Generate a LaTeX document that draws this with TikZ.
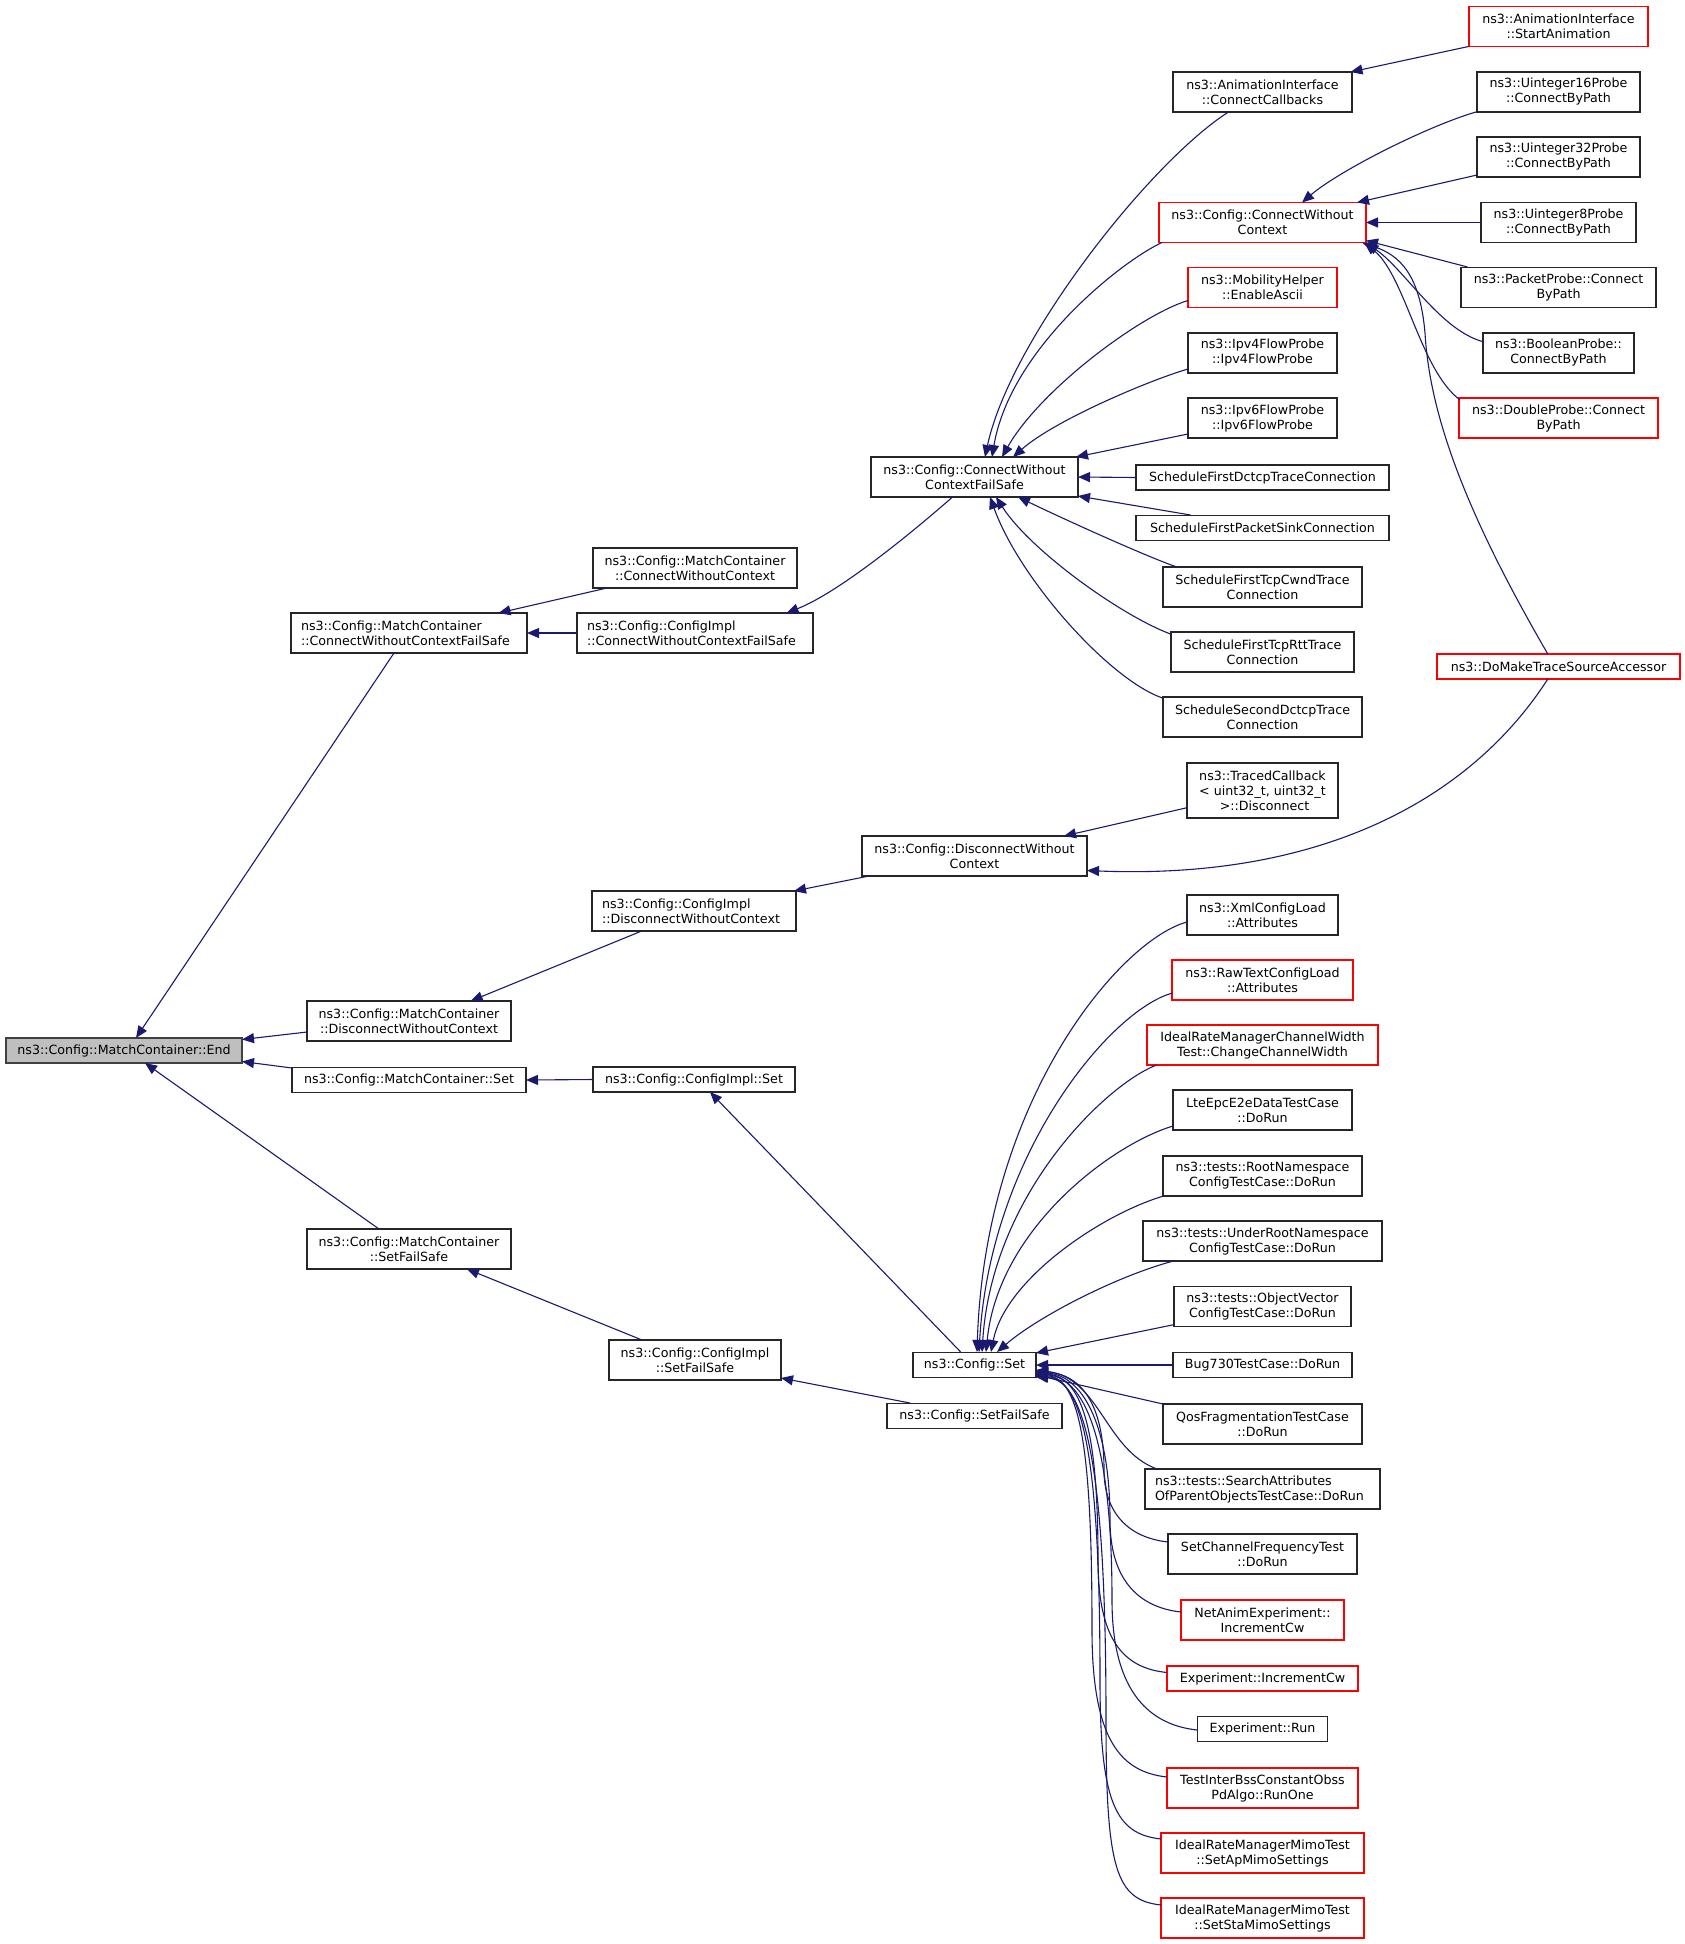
\documentclass[tikz,border=0pt]{standalone}
\usepackage{fontspec}
\setmainfont{DejaVu Sans}
\usetikzlibrary{arrows.meta,calc}
\definecolor{edgeblue}{RGB}{25,25,112}
\definecolor{boxgray}{RGB}{191,191,191}
\definecolor{boxred}{RGB}{255,0,0}
\newcommand\mk[6]{\node[#1,minimum width=#4,minimum height=#5] (#2) at (#3) {#6};}
\begin{document}
\begin{tikzpicture}[x=1pt,y=-1pt,
  font=\fontsize{12.66}{15}\selectfont,
  box/.style={draw=black!85, line width=1.2pt, fill=white, rectangle, inner sep=0pt, align=center},
  rbox/.style={box, draw=boxred},
  lbox/.style={box, align=left, inner xsep=10pt, inner ysep=0pt},
  gbox/.style={box, fill=boxgray, draw=black!75},
  edge/.style={draw=edgeblue, line width=1.1pt, -{Triangle[length=12pt,width=10pt]}}]
\useasboundingbox (0,0) rectangle (1685,1944);

% ---------- nodes ----------
\mk{gbox}{end}{124,1050.5}{236}{25}{ns3::Config::MatchContainer::End}
\mk{lbox,text width=216pt}{mcCWCFS}{409,633}{236}{40}{ns3::Config::MatchContainer\\::ConnectWithoutContextFailSafe}
\mk{box}{mcCWC}{695,568}{204}{40}{ns3::Config::MatchContainer\\::ConnectWithoutContext}
\mk{lbox,text width=216pt}{ciCWCFS}{695,633}{236}{40}{ns3::Config::ConfigImpl\\::ConnectWithoutContextFailSafe}
\mk{box}{cwcfs}{974.5,477}{207}{40}{ns3::Config::ConnectWithout\\ContextFailSafe}
\mk{box}{cc}{1262.5,92}{179}{40}{ns3::AnimationInterface\\::ConnectCallbacks}
\mk{rbox}{sa}{1558.5,26.5}{179}{40}{ns3::AnimationInterface\\::StartAnimation}
\mk{rbox}{cwc}{1262.5,222.5}{207}{40}{ns3::Config::ConnectWithout\\Context}
\mk{box}{u16}{1558.5,92}{163}{40}{ns3::Uinteger16Probe\\::ConnectByPath}
\mk{box}{u32}{1558.5,157}{163}{40}{ns3::Uinteger32Probe\\::ConnectByPath}
\mk{box}{u8}{1558.5,222.5}{155}{40}{ns3::Uinteger8Probe\\::ConnectByPath}
\mk{rbox}{mob}{1262.5,287.5}{149}{40}{ns3::MobilityHelper\\::EnableAscii}
\mk{box}{pp}{1558.5,287.5}{195}{40}{ns3::PacketProbe::Connect\\ByPath}
\mk{box}{ipv4}{1262.5,353}{149}{40}{ns3::Ipv4FlowProbe\\::Ipv4FlowProbe}
\mk{box}{bp}{1558.5,353}{151}{40}{ns3::BooleanProbe::\\ConnectByPath}
\mk{box}{ipv6}{1262.5,418}{149}{40}{ns3::Ipv6FlowProbe\\::Ipv6FlowProbe}
\mk{rbox}{dp}{1558.5,418}{199}{40}{ns3::DoubleProbe::Connect\\ByPath}
\mk{box}{sfD}{1262.5,477.5}{253}{25}{ScheduleFirstDctcpTraceConnection}
\mk{box}{sfP}{1262.5,528}{253}{25}{ScheduleFirstPacketSinkConnection}
\mk{box}{sfC}{1262.5,587}{199}{40}{ScheduleFirstTcpCwndTrace\\Connection}
\mk{box}{sfR}{1262.5,652}{183}{40}{ScheduleFirstTcpRttTrace\\Connection}
\mk{box}{ssD}{1262.5,717}{199}{40}{ScheduleSecondDctcpTrace\\Connection}
\mk{rbox}{dm}{1558.5,666.5}{243}{25}{ns3::DoMakeTraceSourceAccessor}
\mk{box}{tc}{1262.5,790.5}{151}{55}{ns3::TracedCallback\\< uint32\_t, uint32\_t\\ \ >::Disconnect}
\mk{box}{cdwc}{974.5,856}{225}{40}{ns3::Config::DisconnectWithout\\Context}
\mk{lbox,text width=184pt}{ciDwc}{694,911}{204}{40}{ns3::Config::ConfigImpl\\::DisconnectWithoutContext}
\mk{box}{mcDwc}{409,1021}{204}{40}{ns3::Config::MatchContainer\\::DisconnectWithoutContext}
\mk{box}{mcSet}{409,1080}{234}{25}{ns3::Config::MatchContainer::Set}
\mk{box}{ciSet}{694,1079.5}{202}{25}{ns3::Config::ConfigImpl::Set}
\mk{box}{mcSFS}{409,1249}{204}{40}{ns3::Config::MatchContainer\\::SetFailSafe}
\mk{box}{ciSFS}{695,1360}{172}{40}{ns3::Config::ConfigImpl\\::SetFailSafe}
\mk{box}{cSet}{974.5,1365}{123}{25}{ns3::Config::Set}
\mk{box}{cSFS}{974.5,1416}{175}{25}{ns3::Config::SetFailSafe}
\mk{box}{xml}{1262.5,915}{151}{40}{ns3::XmlConfigLoad\\::Attributes}
\mk{rbox}{raw}{1262.5,980}{181}{40}{ns3::RawTextConfigLoad\\::Attributes}
\mk{rbox}{icw}{1262.5,1045}{231}{40}{IdealRateManagerChannelWidth\\Test::ChangeChannelWidth}
\mk{box}{lte}{1262.5,1110}{179}{40}{LteEpcE2eDataTestCase\\::DoRun}
\mk{box}{root}{1262.5,1176}{199}{40}{ns3::tests::RootNamespace\\ConfigTestCase::DoRun}
\mk{box}{under}{1262.5,1241}{239}{40}{ns3::tests::UnderRootNamespace\\ConfigTestCase::DoRun}
\mk{box}{ov}{1262.5,1306.5}{177}{40}{ns3::tests::ObjectVector\\ConfigTestCase::DoRun}
\mk{box}{bug}{1262.5,1365}{179}{25}{Bug730TestCase::DoRun}
\mk{box}{qos}{1262.5,1424}{199}{40}{QosFragmentationTestCase\\::DoRun}
\mk{lbox,text width=215pt}{search}{1262.5,1489}{235}{40}{ns3::tests::SearchAttributes\\OfParentObjectsTestCase::DoRun}
\mk{box}{scf}{1262.5,1554}{189}{40}{SetChannelFrequencyTest\\::DoRun}
\mk{rbox}{net}{1262.5,1620}{163}{40}{NetAnimExperiment::\\IncrementCw}
\mk{rbox}{eic}{1262.5,1678.5}{191}{25}{Experiment::IncrementCw}
\mk{box}{er}{1262.5,1729}{130}{25}{Experiment::Run}
\mk{rbox}{tib}{1262.5,1788}{191}{40}{TestInterBssConstantObss\\PdAlgo::RunOne}
\mk{rbox}{ap}{1262.5,1853}{203}{40}{IdealRateManagerMimoTest\\::SetApMimoSettings}
\mk{rbox}{sta}{1262.5,1918}{203}{40}{IdealRateManagerMimoTest\\::SetStaMimoSettings}

% ---------- edges ----------
\draw[edge] ($(mcCWCFS)+(-15,20)$) -- ($(end)+(12,-12.5)$);
\draw[edge] ($(mcDwc)+(-102,11)$) -- ($(end)+(118,-11)$);
\draw[edge] ($(mcSet)+(-117,-12)$) -- ($(end)+(118,11)$);
\draw[edge] ($(mcSFS)+(-30,-20)$) -- ($(end)+(21,12.5)$);
\draw[edge] ($(mcCWC)+(-88,20)$) -- ($(mcCWCFS)+(89.5,-20)$);
\draw[edge] ($(ciCWCFS)+(-118,0)$) -- ($(mcCWCFS)+(118,0)$);
\draw[edge] ($(cwcfs)+(-22,20)$) .. controls (915,530) and (840,592) .. ($(ciCWCFS)+(91.5,-20)$);

\draw[edge] ($(cc)+(-34,20)$) .. controls (1150,162) and (1010,340) .. ($(cwcfs)+(10.5,-20)$);
\draw[edge] ($(cwc)+(-100.5,20)$) .. controls (1120,262) and (1010,350) .. ($(cwcfs)+(17.5,-20)$);
\draw[edge] ($(mob)+(-74.5,13)$) .. controls (1140,315) and (1040,390) .. ($(cwcfs)+(27.5,-20)$);
\draw[edge] ($(ipv4)+(-74.5,16)$) .. controls (1150,380) and (1055,420) .. ($(cwcfs)+(38.5,-20)$);
\draw[edge] ($(ipv6)+(-74.5,16)$) -- ($(cwcfs)+(101.5,-20)$);
\draw[edge] ($(sfD)+(-126.5,0)$) -- ($(cwcfs)+(103.5,0)$);
\draw[edge] ($(sfP)+(-72,-13)$) -- ($(cwcfs)+(103.5,19)$);
\draw[edge] ($(sfC)+(-85.5,-20)$) .. controls (1150,558) and (1070,522) .. ($(cwcfs)+(43.5,20)$);
\draw[edge] ($(sfR)+(-92,-18)$) .. controls (1120,615) and (1030,550) .. ($(cwcfs)+(21.5,20)$);
\draw[edge] ($(ssD)+(-100,-19)$) .. controls (1110,680) and (1020,580) .. ($(cwcfs)+(15.5,20)$);

\draw[edge] ($(sa)+(-90,20)$) -- ($(cc)+(88,-20)$);
\draw[edge] ($(u16)+(-81.5,19.7)$) .. controls (1430,125) and (1340,170) .. ($(cwc)+(39.5,-20)$);
\draw[edge] ($(u32)+(-81.5,18)$) -- ($(cwc)+(94.5,-20)$);
\draw[edge] ($(u8)+(-77.5,0)$) -- ($(cwc)+(103.5,0)$);
\draw[edge] ($(pp)+(-91,-20.5)$) -- ($(cwc)+(103.5,18)$);
\draw[edge] ($(bp)+(-75.5,-11.3)$) .. controls (1440,330) and (1405,270) .. ($(cwc)+(104,20.5)$);
\draw[edge] ($(dp)+(-98.5,-18)$) .. controls (1420,370) and (1405,275) .. ($(cwc)+(102,20.5)$);
\draw[edge] ($(dm)+(-10.7,-12.5)$) .. controls (1470,520) and (1430,420) .. (1425,333) .. controls (1420,275) and (1400,255) .. ($(cwc)+(100,20.5)$);

\draw[edge] ($(dm)+(-10.7,12.5)$) .. controls (1470,800) and (1320,880) .. ($(cdwc)+(112.5,14.5)$);
\draw[edge] ($(tc)+(-75.5,17.2)$) -- ($(cdwc)+(89.5,-20)$);
\draw[edge] ($(cdwc)+(-105.5,20)$) -- ($(ciDwc)+(100,-20)$);
\draw[edge] ($(ciDwc)+(-52.3,20)$) -- ($(mcDwc)+(61.7,-20)$);
\draw[edge] ($(ciSet)+(-101,0)$) -- ($(mcSet)+(117,0)$);
\draw[edge] ($(ciSFS)+(-53,-20)$) -- ($(mcSFS)+(58,20)$);
\draw[edge] ($(cSet)+(-13.8,-13)$) -- ($(ciSet)+(16,12.5)$);
\draw[edge] ($(cSFS)+(-64.5,-13)$) -- ($(ciSFS)+(86,18)$);

% callers of Config::Set
\draw[edge] ($(xml)+(-75.5,7)$) .. controls (1120,940) and (985,1100) .. ($(cSet)+(2.5,-13)$);
\draw[edge] ($(raw)+(-90,13)$) .. controls (1110,1010) and (990,1155) .. ($(cSet)+(4.5,-13)$);
\draw[edge] ($(icw)+(-106,20)$) .. controls (1105,1085) and (992,1195) .. ($(cSet)+(7.5,-13)$);
\draw[edge] ($(lte)+(-89.5,16)$) .. controls (1110,1145) and (998,1230) .. ($(cSet)+(11.5,-13)$);
\draw[edge] ($(root)+(-99,20)$) .. controls (1100,1215) and (1005,1280) .. ($(cSet)+(16.5,-13)$);
\draw[edge] ($(under)+(-89,20)$) .. controls (1120,1275) and (1040,1315) .. ($(cSet)+(22.5,-13)$);
\draw[edge] ($(ov)+(-88,18)$) -- ($(cSet)+(61.5,-12)$);
\draw[edge] ($(bug)+(-89.5,0)$) -- ($(cSet)+(61.5,0)$);
\draw[edge] ($(qos)+(-99.5,-20)$) -- ($(cSet)+(61.5,10)$);
\draw[edge] ($(search)+(-105.5,-20)$) .. controls (1105,1450) and (1100,1378) .. ($(cSet)+(61.5,5)$);
\draw[edge] ($(scf)+(-94.5,-12)$) .. controls (1123,1537) and (1104,1507) .. (1104,1470) .. controls (1104,1410) and (1085,1375) .. ($(cSet)+(61.5,6)$);
\draw[edge] ($(net)+(-81.5,-8)$) .. controls (1136,1607) and (1110,1577) .. (1110,1520) .. controls (1110,1430) and (1085,1376) .. ($(cSet)+(61.5,7)$);
\draw[edge] ($(eic)+(-95.5,-6)$) .. controls (1122,1668) and (1098,1638) .. (1098,1560) .. controls (1098,1440) and (1085,1377) .. ($(cSet)+(61.5,8)$);
\draw[edge] ($(er)+(-65.5,1)$) .. controls (1152,1725) and (1112,1695) .. (1112,1600) .. controls (1112,1450) and (1088,1378) .. ($(cSet)+(61.5,9)$);
\draw[edge] ($(tib)+(-95.5,-11)$) .. controls (1122,1772) and (1092,1742) .. (1092,1630) .. controls (1092,1460) and (1082,1378) .. ($(cSet)+(61.5,10)$);
\draw[edge] ($(ap)+(-101.5,-14)$) .. controls (1116,1834) and (1100,1804) .. (1100,1680) .. controls (1100,1470) and (1085,1379) .. ($(cSet)+(61.5,11)$);
\draw[edge] ($(sta)+(-101.5,-13)$) .. controls (1116,1900) and (1106,1870) .. (1106,1720) .. controls (1106,1480) and (1088,1380) .. ($(cSet)+(61.5,12)$);
\end{tikzpicture}
\end{document}
